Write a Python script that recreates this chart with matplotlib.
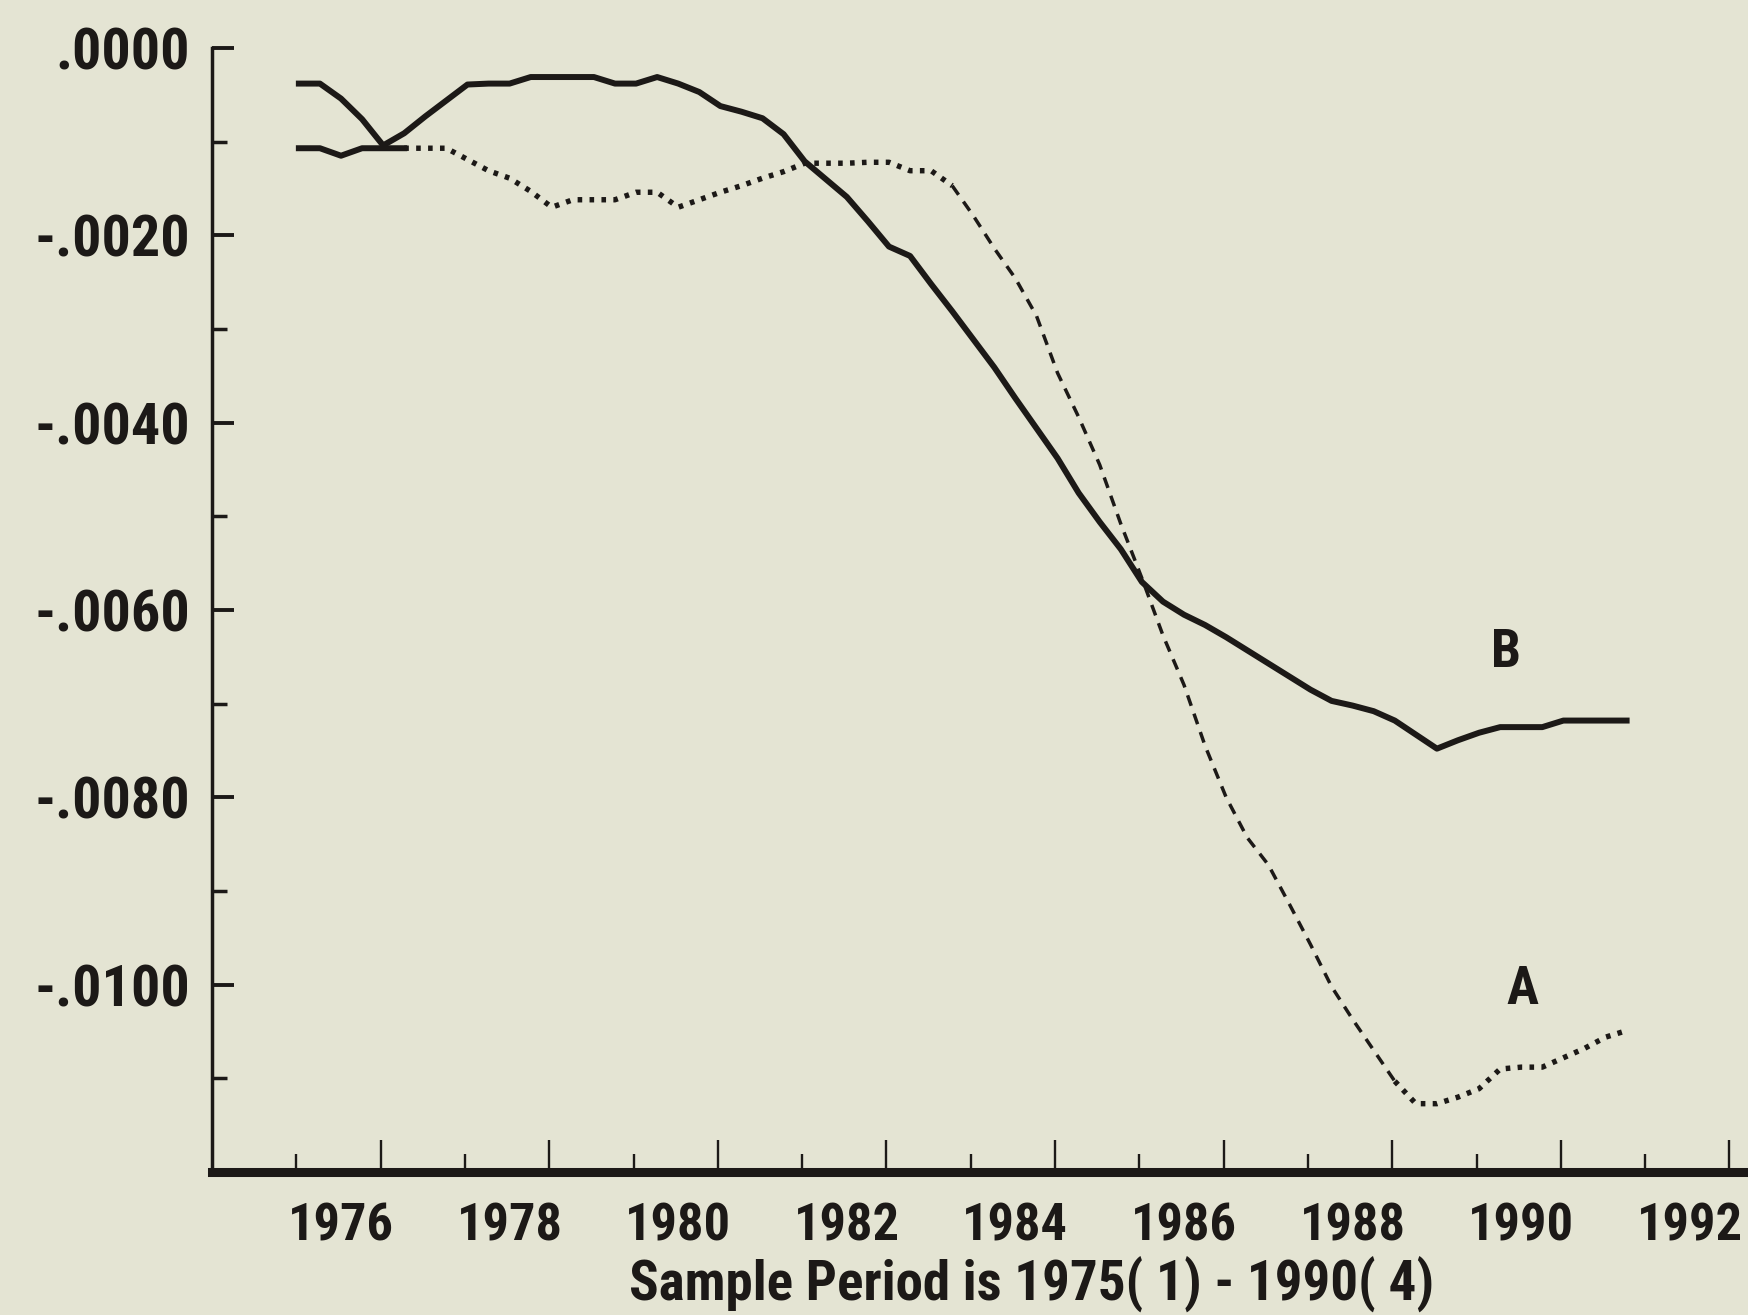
import numpy as np
import matplotlib
matplotlib.use('Agg')
import matplotlib.pyplot as plt
from matplotlib import font_manager as fm
from matplotlib.ticker import FixedLocator, NullFormatter
from matplotlib.transforms import blended_transform_factory

# ── Data (quarterly, 64 obs) ──
coef_b = [-0.00038, -0.00038, -0.00054, -0.00076, -0.00104, -0.00091, -0.00073, -0.00056,
          -0.00039, -0.00038, -0.00038, -0.00031, -0.00031, -0.00031, -0.00031, -0.00038,
          -0.00038, -0.00031, -0.00038, -0.00047, -0.00062, -0.00068, -0.00075, -0.00092,
          -0.00121, -0.00140, -0.00159, -0.00185, -0.00212, -0.00222, -0.00252, -0.00281,
          -0.00311, -0.00341, -0.00374, -0.00406, -0.00438, -0.00475, -0.00506, -0.00535,
          -0.00570, -0.00591, -0.00605, -0.00616, -0.00629, -0.00643, -0.00657, -0.00671,
          -0.00685, -0.00697, -0.00702, -0.00708, -0.00718, -0.00733, -0.00748, -0.00739,
          -0.00731, -0.00725, -0.00725, -0.00725, -0.00718, -0.00718, -0.00718, -0.00718]

coef_a = [-0.00107, -0.00107, -0.00115, -0.00107, -0.00107, -0.00107, -0.00107, -0.00107,
          -0.00119, -0.00131, -0.00139, -0.00153, -0.00170, -0.00162, -0.00162, -0.00162,
          -0.00154, -0.00154, -0.00170, -0.00162, -0.00154, -0.00147, -0.00139, -0.00132,
          -0.00123, -0.00123, -0.00123, -0.00122, -0.00122, -0.00131, -0.00131, -0.00147,
          -0.00179, -0.00214, -0.00246, -0.00286, -0.00347, -0.00394, -0.00445, -0.00508,
          -0.00566, -0.00627, -0.00680, -0.00745, -0.00800, -0.00843, -0.00872, -0.00914,
          -0.00957, -0.01002, -0.01037, -0.01070, -0.01103, -0.01127, -0.01127, -0.01120,
          -0.01111, -0.01090, -0.01088, -0.01088, -0.01078, -0.01068, -0.01056, -0.01049]

year_labels = ['1976', '1978', '1980', '1982', '1984', '1986', '1988', '1990', '1992']
y_ticks = [0.0, -0.002, -0.004, -0.006, -0.008, -0.010]
y_ticklabels = ['.0000', '-.0020', '-.0040', '-.0060', '-.0080', '-.0100']
title_text = 'Sample Period is 1975( 1) - 1990( 4)'

PAPER = '#e4e4d3'
INK = '#1c1917'


# pick the narrowest bold face that is installed (the original is a tall printer font)
def pick_font():
    names = {f.name for f in fm.fontManager.ttflist}
    for cand in ['Liberation Sans Narrow', 'Roboto Condensed', 'Open Sans Condensed',
                 'Noto Sans Condensed']:
        if cand in names:
            return dict(family=[cand, 'DejaVu Sans'])
    for f in fm.fontManager.ttflist:
        if f.name == 'DejaVu Sans' and str(f.stretch).lower() in ('condensed', 'semi-condensed'):
            return dict(family=['DejaVu Sans'], fontstretch='condensed')
    if 'Roboto' in names:
        return dict(family=['Roboto', 'DejaVu Sans'])
    return dict(family=['DejaVu Sans'])


FONT = pick_font()

x = 1976.03 + 0.25 * np.arange(len(coef_b))
a = np.array(coef_a)
b = np.array(coef_b)

fig = plt.figure(figsize=(17.48, 13.15), dpi=100, facecolor=PAPER)
renderer = fig.canvas.get_renderer()


def fit_size(text, target_px, base=30.0):
    # font size that makes `text` about target_px pixels wide
    t = fig.text(0, 0, text, fontsize=base, fontweight='bold', **FONT)
    w = t.get_window_extent(renderer).width
    t.remove()
    return base * target_px / w


ylab_size = fit_size('-.0040', 156)
xlab_size = fit_size('1976', 106)
title_size = fit_size(title_text, 805)
letter_size = fit_size('B', 30)

ax = fig.add_axes([0.1213, 0.1087, 0.8787, 0.8548])
ax.set_facecolor(PAPER)

# ── curve B: solid ──
ax.plot(x, b, color=INK, lw=4.3, zorder=3)

# ── curve A: solid first year, then dotted, dashed on the steep fall ──
ax.plot(x[:6], a[:6], color=INK, lw=4.3, zorder=3)
ax.plot(x[5:32], a[5:32], color=INK, lw=3.9, linestyle=(0, (0.85, 1.35)),
        dash_capstyle='butt', zorder=3)
ax.plot(x[31:53], a[31:53], color=INK, lw=2.5, linestyle=(0, (3.2, 2.4)),
        dash_capstyle='butt', zorder=3)
ax.plot(x[52:], a[52:], color=INK, lw=3.9, linestyle=(0, (0.85, 1.35)),
        dash_capstyle='butt', zorder=3)

ax.set_xlim(1975.0, 1993.22)
ax.set_ylim(-0.012, 0.0)

# ── spines ──
for s in ('top', 'right'):
    ax.spines[s].set_visible(False)
ax.spines['left'].set_linewidth(2.5)
ax.spines['left'].set_color(INK)
ax.spines['bottom'].set_linewidth(6.5)
ax.spines['bottom'].set_color(INK)
ax.spines['left'].set_zorder(4)
ax.spines['bottom'].set_zorder(4)

# ── y ticks ──
ax.yaxis.set_major_locator(FixedLocator(y_ticks))
ax.set_yticklabels(y_ticklabels)
ax.yaxis.set_minor_locator(FixedLocator(np.array(y_ticks) - 0.001))
ax.tick_params(axis='y', which='major', direction='in', length=16, width=2.8,
               color=INK, pad=16, labelsize=ylab_size, labelcolor=INK)
ax.tick_params(axis='y', which='minor', direction='in', length=10.5, width=2.5, color=INK)
for lab in ax.get_yticklabels():
    lab.set_family(FONT['family'])
    if 'fontstretch' in FONT:
        lab.set_stretch(FONT['fontstretch'])
    lab.set_weight('bold')

# ── x ticks: long at odd years, short at even years, labels mid-year ──
years_even = np.arange(1976, 1993, 2)
ax.xaxis.set_major_locator(FixedLocator(years_even + 1))
ax.xaxis.set_minor_locator(FixedLocator(years_even))
ax.xaxis.set_major_formatter(NullFormatter())
ax.tick_params(axis='x', which='major', direction='in', length=23, width=1.7, color=INK)
ax.tick_params(axis='x', which='minor', direction='in', length=13, width=1.7, color=INK)

trans = blended_transform_factory(ax.transData, fig.transFigure)
for yr, lab in zip(years_even, year_labels):
    ax.text(yr + 0.53, 0.057, lab, transform=trans, ha='center', va='baseline',
            fontsize=xlab_size, fontweight='bold', color=INK, clip_on=False, **FONT)

fig.text(0.59, 0.0115, title_text, ha='center', va='baseline', fontsize=title_size,
         fontweight='bold', color=INK, **FONT)

# ── curve labels ──
ax.text(1990.35, -0.00645, 'B', ha='center', va='center', fontsize=letter_size,
        fontweight='bold', color=INK, **FONT)
ax.text(1990.55, -0.01005, 'A', ha='center', va='center', fontsize=letter_size,
        fontweight='bold', color=INK, **FONT)

fig.savefig('out.png', dpi=100, facecolor=PAPER)
